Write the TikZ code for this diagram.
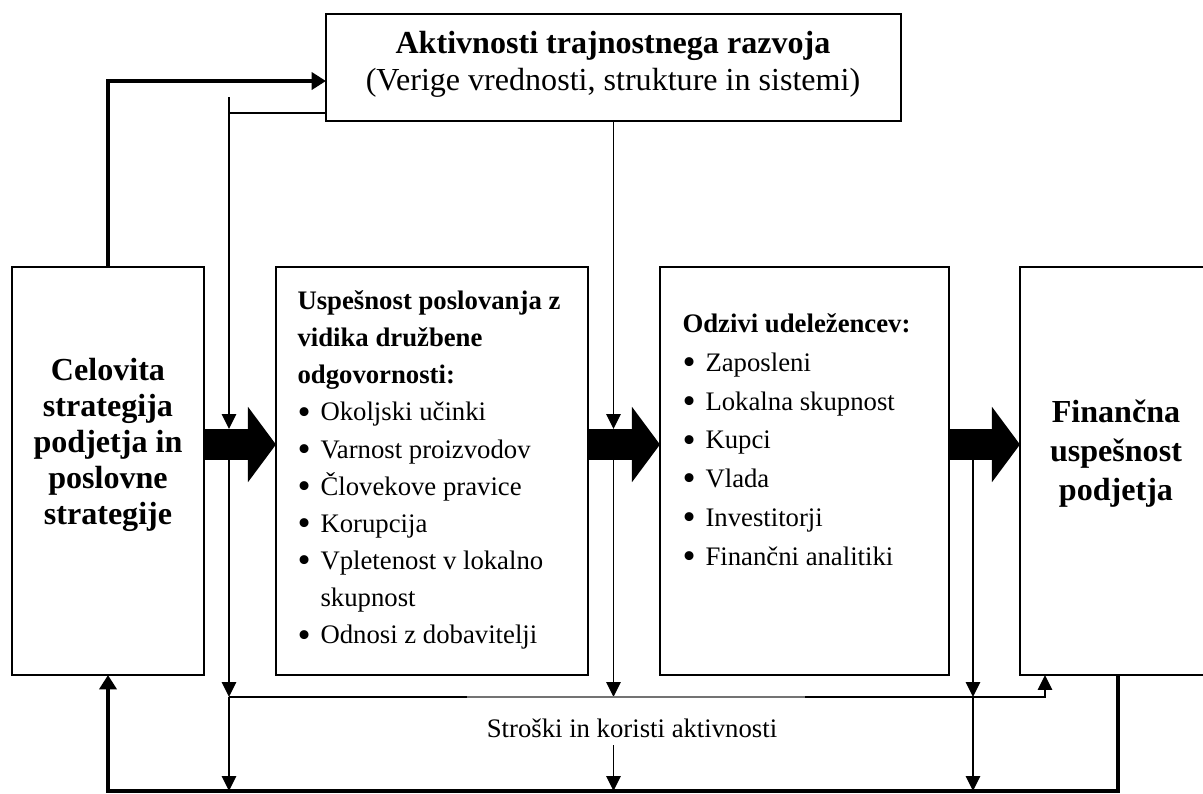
\documentclass[tikz,border=0pt]{standalone}
\usepackage{fontspec}
\usepackage{graphicx}
\setmainfont{Liberation Serif}
\usetikzlibrary{arrows.meta,calc}

\newdimen\px \px=0.37406pt
\newcommand{\blt}{\makebox[8.6pt][l]{\raisebox{-1.2pt}{\scalebox{1.4}{\textbullet}}}}
\newcommand{\hng}{\hspace*{8.6pt}}

\tikzset{
    box/.style={draw, line width=0.75pt, inner sep=0pt, outer sep=0pt, anchor=north west},
    thinline/.style={line width=0.6pt},
    thickline/.style={line width=1.5pt},
    tip/.style={-{Triangle[length=5.6pt,width=5.4pt]}},
    thicktip/.style={-{Triangle[length=5.4pt,width=6.4pt]}},
    fat/.style={line width=11.6pt, -{Triangle[length=10.5pt,width=27.7pt]}},
}

\begin{document}
\begin{tikzpicture}[x=0.37406pt, y=-0.37406pt]
    \path[use as bounding box, clip] (0,0) rectangle (1203,793);

    % boxes
    \node[box, minimum width=575*\px, minimum height=107*\px] (akt) at (326,14) {};
    \node[box, minimum width=192*\px, minimum height=408*\px] (cel) at (12,267) {};
    \node[box, minimum width=312*\px, minimum height=408*\px] (usp) at (276,267) {};
    \node[box, minimum width=289*\px, minimum height=408*\px] (odz) at (660,267) {};
    \node[box, minimum width=196*\px, minimum height=408*\px] (fin) at (1020,267) {};

    % texts
    \node[align=center, font=\fontsize{12}{13.9}\selectfont] (aktT) at (613,64)
        {\textbf{Aktivnosti trajnostnega razvoja}\\(Verige vrednosti, strukture in sistemi)};
    \node[align=center, font=\bfseries\fontsize{12}{13.5}\selectfont] (celT) at (108,445)
        {Celovita\\strategija\\podjetja in\\poslovne\\strategije};
    \node[anchor=west, align=left, inner sep=0pt, font=\fontsize{10}{13.9}\selectfont] (uspT) at (297,470)
        {\textbf{Uspešnost poslovanja z}\\\textbf{vidika družbene}\\\textbf{odgovornosti:}\\
         \blt Okoljski učinki\\\blt Varnost proizvodov\\\blt Človekove pravice\\\blt Korupcija\\
         \blt Vpletenost v lokalno\\\hng skupnost\\\blt Odnosi z dobavitelji};
    \node[anchor=west, align=left, inner sep=0pt, font=\fontsize{10}{14.5}\selectfont] (odzT) at (682,441)
        {\textbf{Odzivi udeležencev:}\\\blt Zaposleni\\\blt Lokalna skupnost\\\blt Kupci\\
         \blt Vlada\\\blt Investitorji\\\blt Finančni analitiki};
    \node[align=center, font=\bfseries\fontsize{12}{14.6}\selectfont] (finT) at (1116,454)
        {Finančna\\uspešnost\\podjetja};
    \node[font=\fontsize{10}{12}\selectfont] (lab) at (632,728) {Stroški in koristi aktivnosti};

    % fat arrows
    \coordinate (m) at (0,444.5);
    \draw[fat] (cel.east |- m) -- (usp.west |- m);
    \draw[fat] (usp.east |- m) -- (odz.west |- m);
    \draw[fat] (odz.east |- m) -- (fin.west |- m);

    % thin lines
    \coordinate (x1) at (229,97);
    \coordinate (x3) at (973,0);
    \coordinate (yb) at (0,113);
    \coordinate (yt) at (0,429);
    \coordinate (yu) at (0,460);
    \coordinate (yk) at (0,697);
    \coordinate (yl) at (0,745);
    \coordinate (yz) at (0,791);
    \draw[thinline] (akt.west |- yb) -- (x1 |- yb);
    \draw[thinline, tip] (x1) -- (x1 |- yt);
    \draw[thinline, tip] (x1 |- yu) -- (x1 |- yk);
    \draw[thinline, tip] (x1 |- yk) -- (x1 |- yz);
    \draw[thinline, tip] (akt.south) -- (akt.south |- yt);
    \draw[thinline, tip] (akt.south |- yu) -- (akt.south |- yk);
    \draw[thinline, tip] (akt.south |- yl) -- (akt.south |- yz);
    \draw[thinline, tip] (x3 |- yu) -- (x3 |- yk);
    \draw[thinline, tip] (x3 |- yk) -- (x3 |- yz);
    \draw[thinline] (x1 |- yk) -- (467,697);
    \draw[line width=0.45pt, black!55] (467,697) -- (805,697);
    \draw[thinline, tip] (805,697) -| ($(fin.south west)+(25,0)$);

    % thick loop
    \draw[thickline, thicktip] (cel.north) |- ($(akt.west)+(0,13.5)$);
    \draw[thickline, thicktip] (fin.south) -- (fin.south |- yz) -| (cel.south);

\end{tikzpicture}
\end{document}
